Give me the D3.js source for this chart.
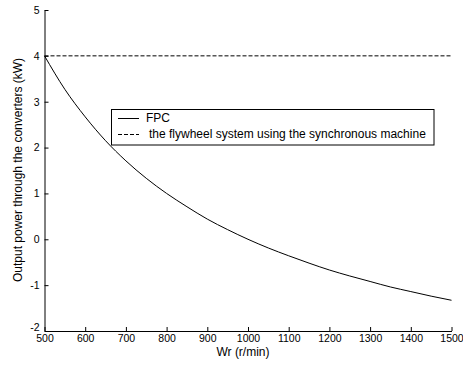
<!DOCTYPE html>
<html>
<head>
<meta charset="utf-8">
<script src="https://cdn.jsdelivr.net/npm/d3@7"></script>
<style>
  html, body { margin: 0; padding: 0; background: #fff; }
  svg text { font-family: "Liberation Sans", Arial, sans-serif; }
</style>
</head>
<body>
<svg id="chart" width="463" height="372"></svg>
<script>
// Rotor speed (r/min) and output power through the converters (kW) for the FPC
const speed = [500, 550, 600, 650, 700, 750, 800, 850, 900, 950, 1000,
               1050, 1100, 1150, 1200, 1250, 1300, 1350, 1400, 1450, 1500];
const fpcPower = [4.00, 3.27, 2.67, 2.15, 1.71, 1.33, 1.00, 0.71, 0.44, 0.21, 0.00,
                  -0.19, -0.36, -0.52, -0.67, -0.80, -0.92, -1.04, -1.14, -1.24, -1.33];
// Constant converter power of the synchronous-machine flywheel system (kW)
const syncPower = [4, 4];
const syncSpeed = [500, 1500];

const xTicks = [500, 600, 700, 800, 900, 1000, 1100, 1200, 1300, 1400, 1500];
const yTicks = [-2, -1, 0, 1, 2, 3, 4, 5];
const legendLabels = ["FPC", "the flywheel system using the synchronous machine"];

const svg = d3.select("#chart");
const W = 463, H = 372;
const margin = { left: 44.5, right: 11.5, top: 10, bottom: 41 };

const x = d3.scaleLinear().domain([500, 1500]).range([margin.left, W - margin.right]);
const y = d3.scaleLinear().domain([-2, 5]).range([H - margin.bottom, margin.top]);

// Plain integer labels with an ASCII hyphen for negatives
const plain = d => String(d);

// Axes with inward ticks
const xAxis = d3.axisBottom(x).tickValues(xTicks).tickFormat(plain)
  .tickSizeInner(-4).tickSizeOuter(0).tickPadding(4);
const yAxis = d3.axisLeft(y).tickValues(yTicks).tickFormat(plain)
  .tickSizeInner(-4).tickSizeOuter(0).tickPadding(5);

const gx = svg.append("g").attr("transform", `translate(0,${y(-2)})`).call(xAxis);
const gy = svg.append("g").attr("transform", `translate(${x(500)},0)`).call(yAxis);

[gx, gy].forEach(g => {
  g.selectAll("path.domain").attr("stroke", "#000").attr("stroke-width", 1);
  g.selectAll(".tick line").attr("stroke", "#000");
  g.selectAll(".tick text").attr("fill", "#000").attr("font-size", 10.5)
    .style("font-family", "'Liberation Sans', Arial, sans-serif");
});
// lift the lowest y label a little so it clears the first x label
gy.selectAll(".tick text").filter(d => d === -2).attr("dy", "-0.05em");

// Axis titles
svg.append("text")
  .attr("x", 243).attr("y", 356)
  .attr("text-anchor", "middle").attr("font-size", 12).attr("fill", "#000")
  .text("Wr (r/min)");

svg.append("text")
  .attr("transform", "translate(22,170) rotate(-90)")
  .attr("text-anchor", "middle").attr("font-size", 12).attr("fill", "#000")
  .text("Output power through the converters (kW)");

// Curves
const line = d3.line().x(d => x(d[0])).y(d => y(d[1])).curve(d3.curveMonotoneX);

svg.append("path")
  .datum(speed.map((s, i) => [s, fpcPower[i]]))
  .attr("d", line)
  .attr("fill", "none").attr("stroke", "#000").attr("stroke-width", 1);

svg.append("path")
  .datum(syncSpeed.map((s, i) => [s, syncPower[i]]))
  .attr("d", d3.line().x(d => x(d[0])).y(d => y(d[1])))
  .attr("fill", "none").attr("stroke", "#000").attr("stroke-width", 1)
  .attr("stroke-dasharray", "4,2");

// Legend
const lg = svg.append("g");
lg.append("rect")
  .attr("x", 111.5).attr("y", 109.5).attr("width", 322.5).attr("height", 35.5)
  .attr("fill", "#fff").attr("stroke", "#000").attr("stroke-width", 1);

const rows = [
  { label: legendLabels[0], dash: null, ty: 122, tx: 146 },
  { label: legendLabels[1], dash: "4,2", ty: 138, tx: 149 }
];
rows.forEach(r => {
  lg.append("line")
    .attr("x1", 118).attr("x2", 139)
    .attr("y1", r.ty - 3.5).attr("y2", r.ty - 3.5)
    .attr("stroke", "#000").attr("stroke-width", 1)
    .attr("stroke-dasharray", r.dash);
  lg.append("text")
    .attr("x", r.tx).attr("y", r.ty)
    .attr("font-size", 12).attr("fill", "#000")
    .text(r.label);
});
</script>
</body>
</html>
